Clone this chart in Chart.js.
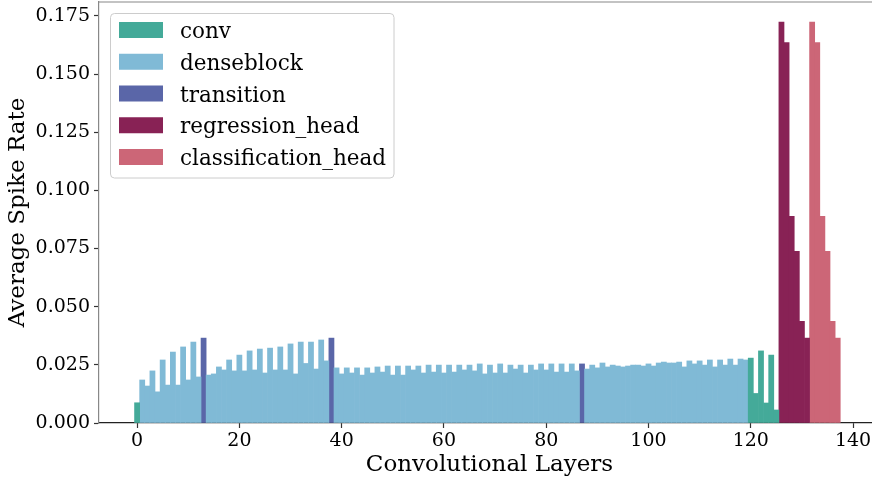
<!DOCTYPE html>
<html><head><meta charset="utf-8">
<script src="https://cdn.jsdelivr.net/npm/chart.js@4.4.1/dist/chart.umd.min.js"></script>
<style>
html,body{margin:0;padding:0;overflow:hidden;background:#fff;width:872px;height:479px}
#wrap{position:relative;width:880px;height:479px}
</style></head>
<body><div id="wrap"><canvas id="c" width="880" height="479"></canvas></div>
<script>
const groupNames = ['conv', 'denseblock', 'transition', 'regression_head', 'classification_head'];
const groupColors = ['#44AA99', '#80BAD6', '#5A66A8', '#882255', '#CC6677'];

// group index for each convolutional layer 0..137
const layerGroup = [
  0,
  1,1,1,1,1,1,1,1,1,1,1,1,
  2,
  1,1,1,1,1,1,1,1,1,1,1,1,1,1,1,1,1,1,1,1,1,1,1,1,
  2,
  1,1,1,1,1,1,1,1,1,1,1,1,1,1,1,1,1,1,1,1,1,1,1,1,
  1,1,1,1,1,1,1,1,1,1,1,1,1,1,1,1,1,1,1,1,1,1,1,1,
  2,
  1,1,1,1,1,1,1,1,1,1,1,1,1,1,1,1,
  1,1,1,1,1,1,1,1,1,1,1,1,1,1,1,1,
  0,0,0,0,0,0,
  3,3,3,3,3,3,
  4,4,4,4,4,4
];

// average spike rate for each layer 0..137
const spikeRate = [
  0.0087,
  0.0185, 0.0159, 0.0224, 0.0134, 0.0271, 0.0163, 0.0305, 0.0163, 0.0327, 0.0185, 0.0348, 0.0198,
  0.0365,
  0.0206, 0.0211, 0.0241, 0.0228, 0.0271, 0.0224, 0.0292, 0.0224, 0.0310, 0.0228, 0.0318, 0.0215,
  0.0322, 0.0228, 0.0327, 0.0228, 0.0340, 0.0211, 0.0348, 0.0256, 0.0348, 0.0232, 0.0357, 0.0267,
  0.0365,
  0.0237, 0.0211, 0.0237, 0.0215, 0.0237, 0.0206, 0.0237, 0.0215, 0.0241, 0.0219, 0.0245, 0.0206,
  0.0245, 0.0206, 0.0245, 0.0228, 0.0245, 0.0215, 0.0249, 0.0219, 0.0249, 0.0215, 0.0249, 0.0219,
  0.0249, 0.0228, 0.0249, 0.0224, 0.0254, 0.0211, 0.0249, 0.0215, 0.0254, 0.0215, 0.0249, 0.0232,
  0.0249, 0.0215, 0.0249, 0.0228, 0.0254, 0.0228, 0.0254, 0.0219, 0.0254, 0.0219, 0.0254, 0.0224,
  0.0254,
  0.0232, 0.0249, 0.0237, 0.0258, 0.0241, 0.0249, 0.0245, 0.0241, 0.0245, 0.0249, 0.0249, 0.0245,
  0.0254, 0.0245, 0.0258, 0.0262, 0.0258, 0.0258, 0.0262, 0.0241, 0.0267, 0.0254, 0.0267, 0.0249,
  0.0271, 0.0241, 0.0271, 0.0249, 0.0275, 0.0249, 0.0275, 0.0271,
  0.0279, 0.0127, 0.0310, 0.0086, 0.0292, 0.0056,
  0.1724, 0.1636, 0.0888, 0.0738, 0.0437, 0.0365,
  0.1724, 0.1636, 0.0888, 0.0738, 0.0437, 0.0365
];

const xTicks = [0, 20, 40, 60, 80, 100, 120, 140];
const yTicks = [0, 0.025, 0.05, 0.075, 0.1, 0.125, 0.15, 0.175];

const datasets = groupNames.map((name, g) => ({
  label: name,
  backgroundColor: groupColors[g],
  borderWidth: 0,
  data: spikeRate.map((v, i) => ({ x: i, y: v })).filter((p, i) => layerGroup[i] === g)
}));

const FONT = 'DejaVu Serif';

const legendAndFrame = {
  id: 'legendAndFrame',
  afterDraw(chart) {
    const ctx = chart.ctx;
    const ca = chart.chartArea;
    ctx.save();
    // top spine
    ctx.strokeStyle = '#888888';
    ctx.lineWidth = 1.2;
    ctx.beginPath();
    ctx.moveTo(ca.left, ca.top);
    ctx.lineTo(ca.right, ca.top);
    ctx.stroke();
    // legend box
    ctx.beginPath();
    ctx.roundRect(110.5, 13.5, 283.5, 164.5, 4);
    ctx.fillStyle = 'rgba(255,255,255,0.8)';
    ctx.fill();
    ctx.strokeStyle = '#cccccc';
    ctx.lineWidth = 1;
    ctx.stroke();
    ctx.font = '21.5px "' + FONT + '"';
    ctx.textBaseline = 'alphabetic';
    ctx.textAlign = 'left';
    chart.data.datasets.forEach((ds, i) => {
      const cy = 30 + i * 31.75;
      ctx.fillStyle = ds.backgroundColor;
      ctx.fillRect(119, cy - 8, 44, 16);
      ctx.fillStyle = '#000';
      ctx.fillText(ds.label, 180, cy + 8);
    });
    ctx.restore();
  }
};

new Chart(document.getElementById('c'), {
  type: 'bar',
  data: { datasets },
  plugins: [legendAndFrame],
  options: {
    responsive: false,
    animation: false,
    devicePixelRatio: 1,
    layout: { padding: { top: 2, left: 0, right: 0, bottom: 0 } },
    datasets: { bar: { barPercentage: 1, categoryPercentage: 1, grouped: false } },
    plugins: { legend: { display: false }, tooltip: { enabled: false } },
    scales: {
      x: {
        type: 'linear',
        offset: false,
        min: -7.45,
        max: 145.27,
        afterBuildTicks: s => { s.ticks = xTicks.map(v => ({ value: v })); },
        afterFit: s => { s.height = 56; s.paddingLeft = 0; s.paddingRight = 0; },
        grid: { display: true, offset: false, drawOnChartArea: false, drawTicks: true, tickLength: 5, tickColor: '#333', tickWidth: 1.2 },
        border: { display: true, color: '#222', width: 1.2 },
        ticks: { font: { family: FONT, size: 19 }, color: '#000', padding: 2, maxRotation: 0, autoSkip: false, callback: v => String(v) },
        title: { display: true, text: 'Convolutional Layers', font: { family: FONT, size: 23 }, color: '#000', padding: { top: 0, bottom: 0 } }
      },
      y: {
        type: 'linear',
        min: 0,
        max: 0.181,
        afterBuildTicks: s => { s.ticks = yTicks.map(v => ({ value: v })); },
        afterFit: s => { s.width = 99; s.paddingTop = 0; s.paddingBottom = 0; },
        grid: { display: true, drawOnChartArea: false, drawTicks: true, tickLength: 5, tickColor: '#333', tickWidth: 1.2 },
        border: { display: true, color: '#888', width: 1.2 },
        ticks: { font: { family: FONT, size: 19 }, color: '#000', padding: 4, callback: v => Number(v).toFixed(3) },
        title: { display: true, text: 'Average Spike Rate', font: { family: FONT, size: 23 }, color: '#000', padding: { top: 4, bottom: 0 } }
      }
    }
  }
});
</script>
</body></html>
